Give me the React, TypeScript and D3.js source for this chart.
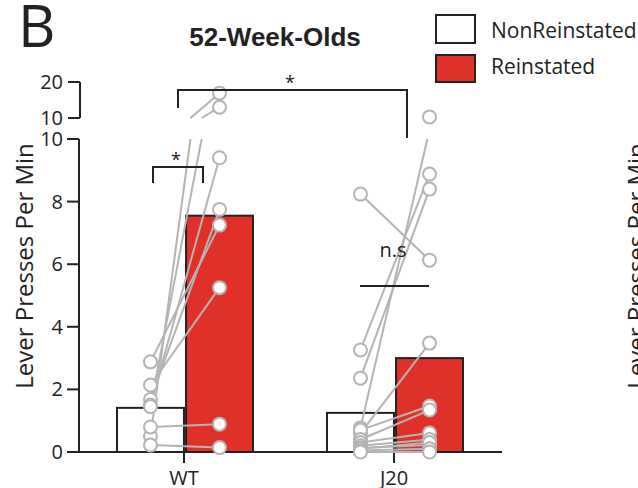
import React from 'react';
import * as d3 from 'd3';

// groups and conditions
const groups = ['WT', 'J20'];
const conditions = ['NonReinstated', 'Reinstated'];

// bar means per group
const meanNon = [1.41, 1.25];
const meanRein = [7.55, 3.0];

// paired animals (NonReinstated -> Reinstated)
const wtNon = [2.88, 2.14, 1.68, 1.5, 1.45, 0.5, 0.8, 0.22];
const wtRein = [7.25, 5.25, 7.75, 9.4, 13.0, 16.9, 0.89, 0.14];
const j20Non = [8.24, 3.26, 2.36, 0.77, 0.6, 0.7, 0.4, 0.3, 0.2, 0.13, 0.1, 0.05, 0.0];
const j20Rein = [6.13, 8.88, 8.4, 10.3, 3.48, 1.47, 1.34, 0.61, 0.4, 0.22, 0.3, 0.1, 0.0];

// axis ticks
const lowTicks = [0, 2, 4, 6, 8, 10];
const highTicks = [10, 20];

const RED = '#e0302a';
const GRAY = '#b4b4b4';
const INK = '#222';
const FONT = 'Open Sans, sans-serif';

const App = () => {
  const width = 638;
  const height = 488;

  // broken y axis: 0-10 below, 10-20 above
  const yLow = d3.scaleLinear().domain([0, 10]).range([452, 139]);
  const yHigh = d3.scaleLinear().domain([10, 20]).range([118, 82]);
  const y = (v: number) => (v > 10 ? yHigh(v) : yLow(v));

  const x = d3.scalePoint<string>().domain(groups).range([79, 499]).padding(0.5);
  const xSub = d3.scaleBand<string>().domain(conditions).range([-67, 69]).paddingInner(0.03);
  const bw = xSub.bandwidth();

  const pairs = [
    { g: 'WT', non: wtNon, rein: wtRein },
    { g: 'J20', non: j20Non, rein: j20Rein },
  ];

  // one paired line, split at the axis break when needed
  const pairSegments = (g: string, a: number, b: number, key: string) => {
    const cx = x(g) ?? 0;
    const x1 = cx + (xSub('NonReinstated') ?? 0) + bw / 2;
    const x2 = cx + (xSub('Reinstated') ?? 0) + bw / 2;
    if (b <= 10) {
      return <line key={key} x1={x1} y1={y(a)} x2={x2} y2={y(b)} stroke={GRAY} strokeWidth={2} />;
    }
    const t = (10 - a) / (b - a);
    const xm = x1 + t * (x2 - x1);
    return (
      <g key={key}>
        <line x1={x1} y1={yLow(a)} x2={xm} y2={yLow(10)} stroke={GRAY} strokeWidth={2} />
        <line x1={xm} y1={yHigh(10)} x2={x2} y2={yHigh(b)} stroke={GRAY} strokeWidth={2} />
      </g>
    );
  };

  return (
    <div style={{ position: 'absolute', left: 0, top: 0 }}>
      <svg width={width} height={height} style={{ display: 'block', background: '#fff' }}>
        {/* panel letter and title */}
        <text x={18} y={47} fontFamily={FONT} fontSize={58} fill={INK}>B</text>
        <text x={275} y={46} textAnchor="middle" fontFamily="Liberation Sans, Arial, sans-serif" fontWeight="bold" fontSize={26} fill={INK}>
          52-Week-Olds
        </text>

        {/* legend */}
        <rect x={436} y={15} width={39} height={28} fill="#fff" stroke={INK} strokeWidth={2} />
        <rect x={436} y={55} width={39} height={27} fill={RED} stroke={INK} strokeWidth={2} />
        <text x={491} y={38} fontFamily={FONT} fontSize={21} fill={INK}>NonReinstated</text>
        <text x={491} y={74} fontFamily={FONT} fontSize={21} fill={INK}>Reinstated</text>

        {/* y axis label */}
        <text transform="translate(33,266) rotate(-90)" textAnchor="middle" fontFamily={FONT} fontSize={24} fill={INK}>
          Lever Presses Per Min
        </text>
        <text transform="translate(645,266) rotate(-90)" textAnchor="middle" fontFamily={FONT} fontSize={24} fill={INK}>
          Lever Presses Per Min
        </text>

        {/* lower y axis */}
        <line x1={79} x2={79} y1={yLow(10)} y2={yLow(0)} stroke={INK} strokeWidth={2} />
        {lowTicks.map((t) => (
          <g key={'lt' + t}>
            <line x1={67} x2={79} y1={yLow(t)} y2={yLow(t)} stroke={INK} strokeWidth={2} />
            <text x={63} y={yLow(t)} dy="0.35em" textAnchor="end" fontFamily={FONT} fontSize={20} fill={INK}>{t}</text>
          </g>
        ))}

        {/* upper y axis */}
        <line x1={80} x2={80} y1={yHigh(20)} y2={yHigh(10)} stroke={INK} strokeWidth={2} />
        {highTicks.map((t) => (
          <g key={'ht' + t}>
            <line x1={68} x2={80} y1={yHigh(t)} y2={yHigh(t)} stroke={INK} strokeWidth={2} />
            <text x={63} y={yHigh(t)} dy="0.35em" textAnchor="end" fontFamily={FONT} fontSize={20} fill={INK}>{t}</text>
          </g>
        ))}

        {/* bars */}
        {groups.map((g, i) => {
          const cx = x(g) ?? 0;
          return (
            <g key={'bar' + g}>
              <rect x={cx + (xSub('NonReinstated') ?? 0)} y={yLow(meanNon[i])} width={bw} height={yLow(0) - yLow(meanNon[i])} fill="#fff" stroke={INK} strokeWidth={2} />
              <rect x={cx + (xSub('Reinstated') ?? 0)} y={yLow(meanRein[i])} width={bw} height={yLow(0) - yLow(meanRein[i])} fill={RED} stroke={INK} strokeWidth={2} />
            </g>
          );
        })}

        {/* x axis */}
        <line x1={79} x2={502} y1={yLow(0)} y2={yLow(0)} stroke={INK} strokeWidth={2} />
        {groups.map((g) => (
          <g key={'xt' + g}>
            <line x1={x(g)} x2={x(g)} y1={yLow(0)} y2={yLow(0) + 11} stroke={INK} strokeWidth={2} />
            <text x={x(g)} y={485} textAnchor="middle" fontFamily={FONT} fontSize={20} fill={INK}>{g}</text>
          </g>
        ))}

        {/* paired lines */}
        {pairs.map((p) => p.non.map((a, k) => pairSegments(p.g, a, p.rein[k], p.g + 'l' + k)))}

        {/* points */}
        {pairs.map((p) => (
          <g key={'pts' + p.g}>
            {p.non.map((v, k) => (
              <circle key={'n' + k} cx={(x(p.g) ?? 0) + (xSub('NonReinstated') ?? 0) + bw / 2} cy={y(v)} r={6.5} fill="#fff" stroke={GRAY} strokeWidth={2} />
            ))}
            {p.rein.map((v, k) => (
              <circle key={'r' + k} cx={(x(p.g) ?? 0) + (xSub('Reinstated') ?? 0) + bw / 2} cy={y(v)} r={6.5} fill="#fff" stroke={GRAY} strokeWidth={2} />
            ))}
          </g>
        ))}

        {/* significance marks */}
        <path d="M153,183 V167 H203 V183" fill="none" stroke={INK} strokeWidth={2} />
        <text x={176} y={166} textAnchor="middle" fontFamily={FONT} fontSize={18} fill={INK}>*</text>
        <path d="M178,108 V90 H407 V138" fill="none" stroke={INK} strokeWidth={2} />
        <text x={290} y={89} textAnchor="middle" fontFamily={FONT} fontSize={18} fill={INK}>*</text>
        <line x1={360} x2={429} y1={286} y2={286} stroke={INK} strokeWidth={2} />
        <text x={393} y={257} textAnchor="middle" fontFamily={FONT} fontSize={20} fill={INK}>n.s</text>
      </svg>
    </div>
  );
};

export default App;
